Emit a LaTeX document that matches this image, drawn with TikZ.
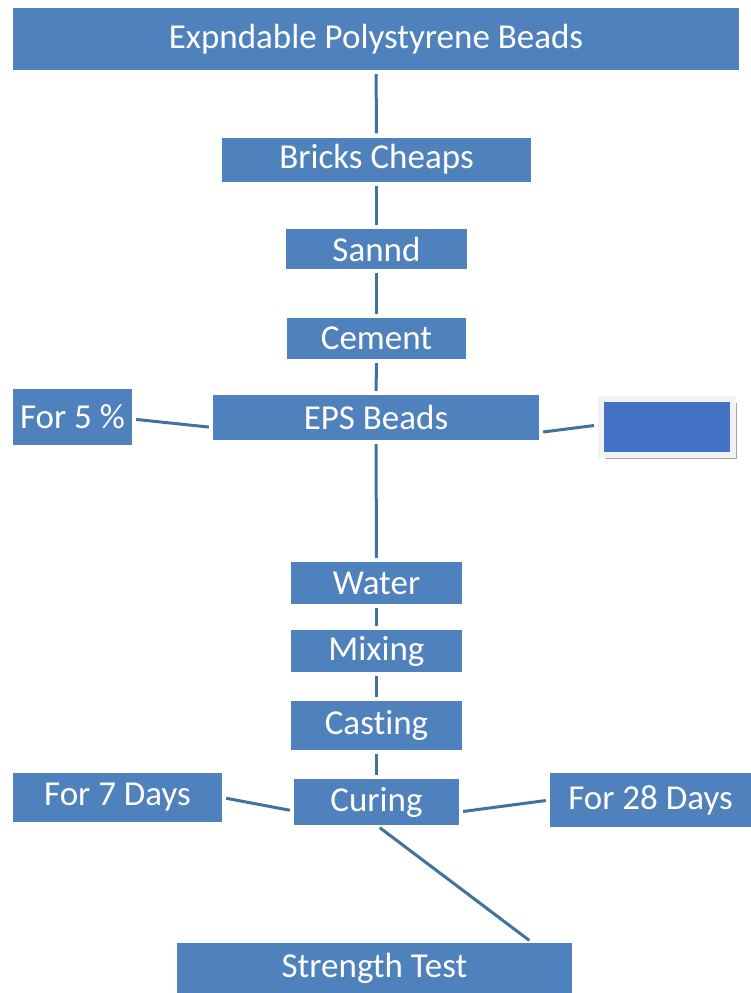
\documentclass[tikz,border=0pt]{standalone}
\usepackage{fontspec}
\setmainfont{Carlito}[RawFeature=-liga]
\usepackage{xcolor}
\usepackage{tikz}
\usetikzlibrary{shadows}
\definecolor{boxblue}{HTML}{4F81BD}
\definecolor{linkblue}{HTML}{41719C}
\definecolor{plainblue}{HTML}{4472C4}
\definecolor{framegray}{HTML}{F2F2F2}

\begin{document}
\begin{tikzpicture}[x=1pt, y=-1pt,
  block/.style={rectangle, fill=boxblue, text=white, inner sep=0pt, font=\fontsize{35}{40}\selectfont},
  link/.style={draw=linkblue, line width=3pt, shorten <=4pt, shorten >=4pt}]
  \useasboundingbox (0,0) rectangle (751,993);
  % main column
  \node (beads) [block, minimum width=726pt, minimum height=62pt] at (376,39) {Expndable Polystyrene Beads};
  \node (bricks) [block, minimum width=309pt, minimum height=44pt] at (376.5,159.5) {Bricks Cheaps};
  \node (sand) [block, minimum width=181pt, minimum height=40pt] at (376.5,249) {Sannd};
  \node (cement) [block, minimum width=179pt, minimum height=41pt] at (376.5,338.5) {Cement};
  \node (eps) [block, minimum width=326pt, minimum height=45pt] at (376,417.5) {EPS Beads};
  \node (water) [block, minimum width=171pt, minimum height=42pt] at (376.5,583) {Water};
  \node (mixing) [block, minimum width=171pt, minimum height=42pt] at (376.5,651) {Mixing};
  \node (casting) [block, minimum width=171pt, minimum height=49pt] at (376.5,725.5) {Cast\kern0pt ing};
  \node (curing) [block, minimum width=165pt, minimum height=46pt] at (376.5,802) {Curing};
  \node (strength) [block, minimum width=395pt, minimum height=51pt] at (374.5,968.5) {Strength Test};
  % side boxes
  \node (five) [block, minimum width=119pt, minimum height=56pt] at (72.5,417) {For 5 \%};
  \node (blank) [rectangle, fill=plainblue, draw=framegray, line width=6pt, minimum width=132pt, minimum height=56pt,
    drop shadow={fill=gray!70, shadow xshift=4pt, shadow yshift=-4pt, opacity=1}] at (667,427) {};
  \node (seven) [block, minimum width=209pt, minimum height=49pt] at (117.5,797.5) {For 7 Days};
  \node (twentyeight) [block, minimum width=201pt, minimum height=54pt] at (650.5,800) {For 28 Days};
  % connectors
  \draw[link] (beads) -- (bricks);
  \draw[link] (bricks) -- (sand);
  \draw[link] (sand) -- (cement);
  \draw[link] (cement) -- (eps);
  \draw[link] (eps) -- (water);
  \draw[link] (water) -- (mixing);
  \draw[link] (mixing) -- (casting);
  \draw[link] (casting) -- (curing);
  \draw[link] ([yshift=-2pt]five.east) -- ([yshift=-10pt]eps.west);
  \draw[link] ([yshift=-15pt]eps.east) -- ([yshift=2pt]blank.west);
  \draw[link] (seven.east) -- ([yshift=-9pt]curing.west);
  \draw[link] ([yshift=-10pt]curing.east) -- (twentyeight.west);
  \draw[link] (curing.south) -- ([xshift=158pt]strength.north);
\end{tikzpicture}
\end{document}
